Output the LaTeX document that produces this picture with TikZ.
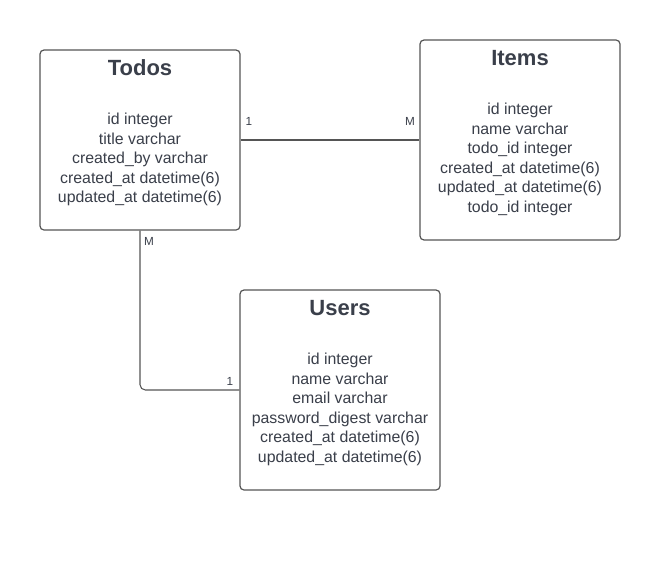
\documentclass[tikz,border=0pt]{standalone}
\usepackage{fontspec}
\setmainfont{Liberation Sans}
\usetikzlibrary{positioning,calc}
\definecolor{inkgray}{RGB}{58,63,74}
\definecolor{edgegray}{RGB}{85,85,85}

\tikzset{
  table/.style={draw=edgegray, line width=0.9pt, rounded corners=3pt, minimum width=150pt, inner sep=0pt},
  tabletitle/.style={font=\fontsize{16.5}{19}\selectfont\bfseries, text=inkgray},
  tablefields/.style={font=\fontsize{11.9}{14.6}\selectfont, text=inkgray, align=center},
  card/.style={font=\fontsize{8.8}{10}\selectfont, text=inkgray},
  link/.style={draw=edgegray, line width=0.8pt, rounded corners=4pt}
}

\begin{document}
\begin{tikzpicture}[x=0.75pt,y=-0.75pt]
          \useasboundingbox[fill=white] (0,0) rectangle (660,571);

          % Tables
          \node[table, minimum height=135pt] (todos) at (140,140) {};
          \node[table, minimum height=150pt] (items) at (520,140) {};
          \node[table, minimum height=150pt] (users) at (340,390) {};

          % Titles
          \node[tabletitle] (todostitle) at (140,68) {Todos};
          \node[tabletitle] (itemstitle) at (520,58) {Items};
          \node[tabletitle] (userstitle) at (340,308) {Users};

          % Columns
          \node[tablefields] (todosfields) at (140,159.5) {id integer\\title varchar\\created\_by varchar\\created\_at datetime(6)\\updated\_at datetime(6)};
          \node[tablefields] (itemsfields) at (520,159.5) {id integer\\name varchar\\todo\_id integer\\created\_at datetime(6)\\updated\_at datetime(6)\\todo\_id integer};
          \node[tablefields] (usersfields) at (340,409.5) {id integer\\name varchar\\email varchar\\password\_digest varchar\\created\_at datetime(6)\\updated\_at datetime(6)};

          % Relations
          \draw[link] (todos.east) -- (items.west);
          \draw[link] (todos.south) |- (users.west);

          % Cardinalities
          \node[card] (todosone) at (249,121) {1};
          \node[card] (itemsmany) at (410,121) {M};
          \node[card] (todosmany) at (149,241) {M};
          \node[card] (usersone) at (230,381) {1};
        \end{tikzpicture}
\end{document}
